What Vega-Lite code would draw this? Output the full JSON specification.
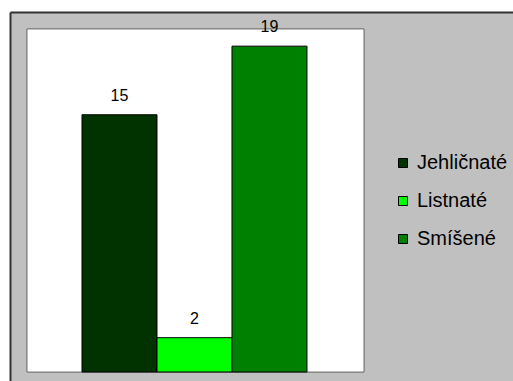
{
  "$schema": "https://vega.github.io/schema/vega-lite/v6.json",
  "autosize": "none",
  "padding": {"left": 10, "top": 12, "right": 0, "bottom": 0},
  "width": 503,
  "height": 369,
  "background": "#FFFFFF",
  "config": {
    "view": {"fill": "#C0C0C0", "stroke": null},
    "font": "Liberation Sans",
    "text": {"font": "Liberation Sans"}
  },
  "data": {
    "values": [
      {"typ": "Jehličnaté", "pocet": 15},
      {"typ": "Listnaté", "pocet": 2},
      {"typ": "Smíšené", "pocet": 19}
    ]
  },
  "encoding": {
    "x": {
      "datum": "les",
      "type": "nominal",
      "scale": {"paddingInner": 0, "paddingOuter": 0.618, "align": 0.259},
      "axis": {
        "orient": "top",
        "title": null,
        "labels": false,
        "ticks": false,
        "grid": false,
        "domain": true,
        "domainColor": "#333333",
        "domainWidth": 2
      }
    }
  },
  "layer": [
    {
      "mark": {"type": "rect", "fill": "#FFFFFF", "stroke": "#808080", "strokeWidth": 1},
      "encoding": {
        "x": {"datum": "les", "type": "nominal", "bandPosition": -0.2444},
        "x2": {"datum": "les", "bandPosition": 1.2533},
        "y": {"datum": 0, "type": "quantitative"},
        "y2": {"datum": 20}
      }
    },
    {
      "mark": {"type": "bar", "stroke": "#000000", "strokeWidth": 1},
      "encoding": {
        "xOffset": {
          "field": "typ",
          "type": "nominal",
          "sort": null,
          "scale": {"paddingInner": 0, "paddingOuter": 0}
        },
        "y": {
          "field": "pocet",
          "type": "quantitative",
          "scale": {"domain": [-0.5248, 20.9913], "nice": false, "zero": false},
          "axis": {
            "title": null,
            "labels": false,
            "ticks": false,
            "grid": false,
            "domain": true,
            "domainColor": "#333333",
            "domainWidth": 2
          }
        },
        "y2": {"datum": 0},
        "color": {
          "field": "typ",
          "type": "nominal",
          "sort": null,
          "scale": {
            "domain": ["Jehličnaté", "Listnaté", "Smíšené"],
            "range": ["#003300", "#00FF00", "#008000"]
          },
          "legend": {
            "title": null,
            "orient": "none",
            "legendX": 383,
            "legendY": 141,
            "symbolType": "square",
            "symbolSize": 81,
            "symbolStrokeColor": "#000000",
            "symbolStrokeWidth": 1,
            "symbolOpacity": 1,
            "labelFont": "Liberation Sans",
            "labelFontSize": 20,
            "labelColor": "#000000",
            "labelOffset": 4,
            "rowPadding": 18,
            "padding": 0
          }
        }
      }
    },
    {
      "mark": {"type": "text", "baseline": "alphabetic", "align": "center", "dy": -14, "fontSize": 16, "color": "#000000"},
      "encoding": {
        "xOffset": {"field": "typ", "type": "nominal", "sort": null},
        "y": {"field": "pocet", "type": "quantitative"},
        "text": {"field": "pocet", "type": "quantitative"}
      }
    }
  ]
}
